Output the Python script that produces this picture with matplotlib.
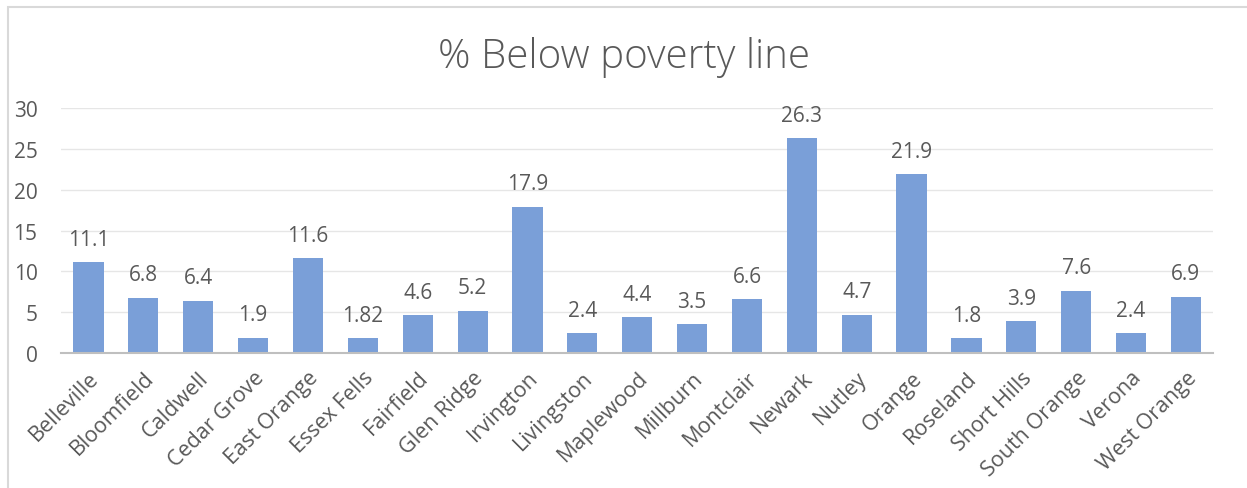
import matplotlib.pyplot as plt
import matplotlib.transforms as mtransforms
from matplotlib.patches import Rectangle

towns = ['Belleville', 'Bloomfield', 'Caldwell', 'Cedar Grove', 'East Orange',
         'Essex Fells', 'Fairfield', 'Glen Ridge', 'Irvington', 'Livingston',
         'Maplewood', 'Millburn', 'Montclair', 'Newark', 'Nutley', 'Orange',
         'Roseland', 'Short Hills', 'South Orange', 'Verona', 'West Orange']
pct_below = [11.1, 6.8, 6.4, 1.9, 11.6, 1.82, 4.6, 5.2, 17.9, 2.4, 4.4, 3.5,
             6.6, 26.3, 4.7, 21.9, 1.8, 3.9, 7.6, 2.4, 6.9]
pct_labels = ['11.1', '6.8', '6.4', '1.9', '11.6', '1.82', '4.6', '5.2', '17.9',
              '2.4', '4.4', '3.5', '6.6', '26.3', '4.7', '21.9', '1.8', '3.9',
              '7.6', '2.4', '6.9']
y_ticks = [0, 5, 10, 15, 20, 25, 30]

plt.rcParams['font.family'] = ['Open Sans', 'DejaVu Sans']
text_grey = '#595959'

fig = plt.figure(figsize=(12.47, 4.89), dpi=100)
ax = fig.add_axes([0.049, 0.276, 0.924, 0.501])

# 外框
fig.patches.append(Rectangle((8 / 1247, -0.05), 1.1, 1.05 - 8 / 489,
                             transform=fig.transFigure, fill=False,
                             edgecolor='#D9D9D9', linewidth=1.5))

x = range(len(towns))
bars = ax.bar(x, pct_below, width=0.55, color='#7A9FD8', zorder=3)
ax.bar_label(bars, labels=pct_labels, padding=9, fontsize=15, color=text_grey)

ax.set_xlim(-0.5, len(towns) - 0.5)
ax.set_ylim(0, 30)
ax.set_yticks(y_ticks)
ax.set_xticks(list(x))
ax.set_xticklabels(towns, rotation=45, ha='right', rotation_mode='anchor',
                   fontsize=15.5, color=text_grey)
shift = mtransforms.ScaledTranslation(8 / 100, 0, fig.dpi_scale_trans)
for lbl in ax.get_xticklabels():
    lbl.set_transform(lbl.get_transform() + shift)
ax.tick_params(axis='y', labelsize=15, labelcolor=text_grey, length=0, pad=17)
ax.tick_params(axis='x', length=0, pad=10)
ax.grid(axis='y', color='#E6E6E6', linewidth=1, zorder=0)

for side in ['top', 'right', 'left']:
    ax.spines[side].set_visible(False)
ax.spines['bottom'].set_color('#BFBFBF')
ax.spines['bottom'].set_linewidth(1.5)
ax.spines['bottom'].set_zorder(4)

fig.text(0.5, 0.883, '% Below poverty line', ha='center', va='center',
         fontsize=29, color=text_grey, fontweight='light')

fig.savefig('out.png', dpi=100)
